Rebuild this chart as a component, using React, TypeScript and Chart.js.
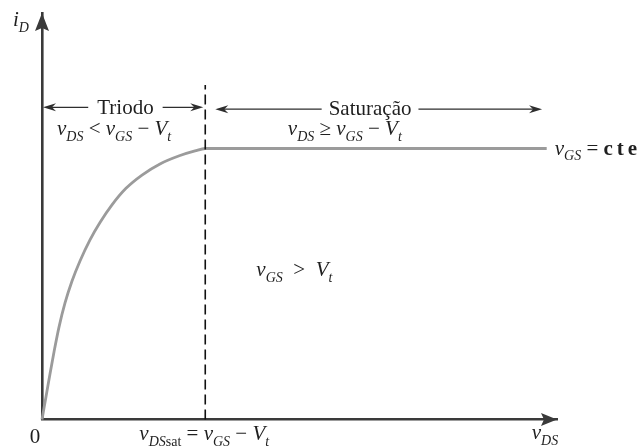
import React, { useEffect, useRef } from "react";
import { Chart, registerables } from "chart.js";

Chart.register(...registerables);

// Drain current i_D against v_DS for one fixed v_GS (normalised units)
const vDS = [0, 0.039, 0.097, 0.155, 0.233, 0.33, 0.447, 0.583, 0.738, 0.932, 1.126, 1.359, 1.631, 1.942, 2.291, 2.68, 2.971, 3.17, 9.8];
const iD = [0, 0.042, 0.105, 0.168, 0.249, 0.341, 0.43, 0.511, 0.585, 0.663, 0.727, 0.792, 0.853, 0.902, 0.943, 0.974, 0.991, 1.0, 1.0];

// Edge of saturation: v_DSsat = v_GS − V_t
const vDSsat = 3.17;
const dashTop = 1.234;

// Axis ranges
const vDSMax = 10;
const iDMax = 1.5;

// Region names
const regionNames = ["Triodo", "Saturação"];

const SERIF = '"Liberation Serif", "Times New Roman", serif';
const INK = "#1f1f1f";
const AXIS = "#3a3a3a";

type Seg = { t: string; it?: boolean; b?: boolean; sub?: boolean; ls?: number };

function segFont(s: Seg, size: number) {
  const px = s.sub ? Math.round(size * 0.66) : size;
  return `${s.it ? "italic " : ""}${s.b ? "bold " : ""}${px}px ${SERIF}`;
}

function segWidth(ctx: CanvasRenderingContext2D, s: Seg, size: number) {
  ctx.font = segFont(s, size);
  let w = ctx.measureText(s.t).width;
  if (s.ls) w += s.ls * (s.t.length - 1);
  return w;
}

function drawRich(
  ctx: CanvasRenderingContext2D,
  segs: Seg[],
  x: number,
  y: number,
  size: number,
  align: "left" | "center"
) {
  const widths = segs.map((s) => segWidth(ctx, s, size));
  const total = widths.reduce((a, b) => a + b, 0);
  let cx = align === "center" ? x - total / 2 : x;
  ctx.textAlign = "left";
  ctx.textBaseline = "alphabetic";
  ctx.fillStyle = INK;
  segs.forEach((s, i) => {
    ctx.font = segFont(s, size);
    const dy = s.sub ? size * 0.27 : 0;
    if (s.ls) {
      let px = cx;
      for (const ch of s.t) {
        ctx.fillText(ch, px, y + dy);
        px += ctx.measureText(ch).width + s.ls;
      }
    } else {
      ctx.fillText(s.t, cx, y + dy);
    }
    cx += widths[i];
  });
}

function arrowHead(
  ctx: CanvasRenderingContext2D,
  tipX: number,
  tipY: number,
  dx: number,
  dy: number,
  len: number,
  half: number,
  notch: number
) {
  const bx = tipX - dx * len;
  const by = tipY - dy * len;
  const nx = -dy;
  const ny = dx;
  ctx.beginPath();
  ctx.moveTo(tipX, tipY);
  ctx.lineTo(bx + nx * half, by + ny * half);
  ctx.lineTo(tipX - dx * (len - notch), tipY - dy * (len - notch));
  ctx.lineTo(bx - nx * half, by - ny * half);
  ctx.closePath();
  ctx.fill();
}

function regionArrow(
  ctx: CanvasRenderingContext2D,
  x1: number,
  x2: number,
  y: number,
  label: string,
  cx: number,
  baseline: number,
  pad: number
) {
  ctx.font = `21px ${SERIF}`;
  const w = ctx.measureText(label).width;
  const gl = cx - w / 2 - pad;
  const gr = cx + w / 2 + pad;
  ctx.strokeStyle = "#2e2e2e";
  ctx.fillStyle = "#2e2e2e";
  ctx.lineWidth = 1.3;
  ctx.beginPath();
  ctx.moveTo(x1 + 4, y);
  ctx.lineTo(gl, y);
  ctx.moveTo(gr, y);
  ctx.lineTo(x2 - 4, y);
  ctx.stroke();
  arrowHead(ctx, x1, y, -1, 0, 13, 4, 4);
  arrowHead(ctx, x2, y, 1, 0, 13, 4, 4);
  ctx.fillStyle = INK;
  ctx.textAlign = "center";
  ctx.textBaseline = "alphabetic";
  ctx.fillText(label, cx, baseline);
}

const annotations = {
  id: "mosfetAnnotations",
  afterDraw(chart: Chart) {
    const ctx = chart.ctx;
    const xs = chart.scales.x;
    const ys = chart.scales.y;
    const X = (v: number) => xs.getPixelForValue(v);
    const Y = (v: number) => ys.getPixelForValue(v);
    ctx.save();

    // axis arrowheads
    ctx.fillStyle = AXIS;
    arrowHead(ctx, X(0), Y(iDMax), 0, -1, 18, 7, 3);
    arrowHead(ctx, X(vDSMax), Y(0), 1, 0, 16, 6.5, 3);

    // region arrows
    regionArrow(ctx, X(0) + 1, X(vDSsat) - 2, Y(1.152), regionNames[0], X(1.62), Y(1.152) + 7, 9);
    regionArrow(ctx, X(vDSsat) + 10, X(9.71), Y(1.145), regionNames[1], X(6.37), Y(1.145) + 6, 7);

    const v: Seg = { t: "v", it: true };
    const DS: Seg = { t: "DS", it: true, sub: true };
    const GS: Seg = { t: "GS", it: true, sub: true };
    const V: Seg = { t: "V", it: true };
    const t: Seg = { t: "t", it: true, sub: true };

    drawRich(ctx, [v, DS, { t: " < " }, v, GS, { t: " − " }, V, t], X(1.4), 135, 21, "center");
    drawRich(ctx, [v, DS, { t: " ≥ " }, v, GS, { t: " − " }, V, t], X(5.88), 135, 21, "center");
    drawRich(ctx, [v, GS, { t: " = " }, { t: "cte", b: true, ls: 4 }], X(9.8) + 8, Y(1.0) + 6, 21, "left");
    drawRich(ctx, [v, GS, { t: "  >  " }, V, t], X(4.9), 276, 21, "center");

    // axis labels
    drawRich(ctx, [{ t: "0" }], X(0) - 7, 443, 21, "center");
    drawRich(
      ctx,
      [v, DS, { t: "sat", sub: true }, { t: " = " }, v, GS, { t: " − " }, V, t],
      X(vDSsat) - 1,
      440,
      21,
      "center"
    );
    drawRich(ctx, [v, DS], X(vDSMax) - 12, 439, 21, "center");
    drawRich(ctx, [{ t: "i", it: true }, { t: "D", it: true, sub: true }], 13, 26, 21, "left");

    ctx.restore();
  },
};

export default function App() {
  const ref = useRef<HTMLCanvasElement | null>(null);

  useEffect(() => {
    if (!ref.current) return;
    const chart = new Chart(ref.current, {
      type: "line",
      data: {
        datasets: [
          {
            label: "vDSsat",
            data: [
              { x: vDSsat, y: 0 },
              { x: vDSsat, y: dashTop },
            ],
            borderColor: "#111",
            borderWidth: 1.6,
            borderDash: [10, 5],
            pointRadius: 0,
            order: 0,
          },
          {
            label: "iD",
            data: vDS.map((x, i) => ({ x, y: iD[i] })),
            borderColor: "#9b9b9b",
            borderWidth: 2.8,
            pointRadius: 0,
            cubicInterpolationMode: "monotone",
            order: 1,
          },
        ],
      },
      options: {
        responsive: false,
        animation: false,
        clip: false,
        layout: { padding: { left: 42, right: 83, top: 13, bottom: 28.5 } },
        plugins: { legend: { display: false }, tooltip: { enabled: false } },
        scales: {
          x: {
            type: "linear",
            min: 0,
            max: vDSMax,
            grid: { display: false, drawTicks: false },
            ticks: { display: false },
            border: { display: true, color: AXIS, width: 2.6 },
          },
          y: {
            type: "linear",
            min: 0,
            max: iDMax,
            grid: { display: false, drawTicks: false },
            ticks: { display: false },
            border: { display: true, color: AXIS, width: 2.6 },
          },
        },
      },
      plugins: [annotations],
    } as any);
    return () => chart.destroy();
  }, []);

  return (
    <div style={{ position: "fixed", left: 0, top: 0, width: 640, height: 448, background: "#fff" }}>
      <canvas ref={ref} width={640} height={448} />
    </div>
  );
}
